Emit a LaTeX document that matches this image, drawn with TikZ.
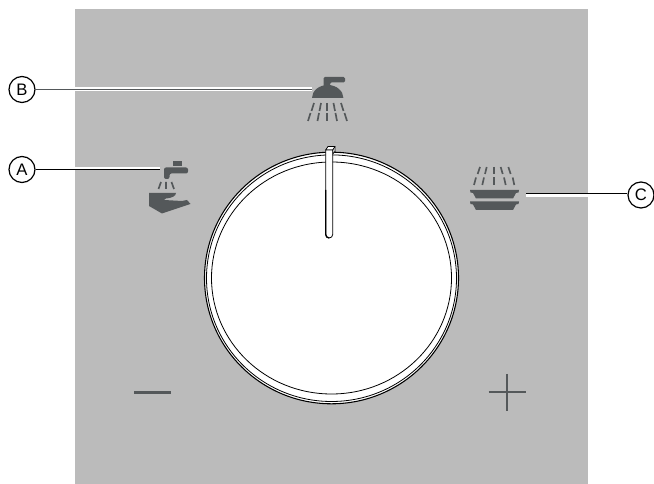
\documentclass[tikz,border=0pt]{standalone}
\usepackage{fontspec}
\setmainfont{Liberation Sans}
\definecolor{panel}{HTML}{BBBBBB}
\definecolor{icon}{HTML}{54585A}
\tikzset{
  x=0.75pt,y=-0.75pt,
  callout/.style={circle,draw=black,line width=0.9pt,fill=white,minimum size=19.5pt,inner sep=0pt,font=\fontsize{12.5pt}{13pt}\selectfont},
  halo/.style={draw=white,line width=1.1pt},
  leader/.style={draw=black,line width=0.75pt},
  spray/.style={draw=icon,line width=1.25pt},
  iconfill/.style={fill=icon,draw=none},
  ring/.style={draw=black,line width=0.6pt},
  signline/.style={draw=icon,line width=1.2pt}
}
\begin{document}
\begin{tikzpicture}
\useasboundingbox (0,0) rectangle (654,484);
\fill[white] (0,0) rectangle (654,484);
\fill[panel] (74.5,9) rectangle (588,484);

% dial
\filldraw[ring,fill=white,line width=0.8pt] (331.5,278) ellipse [x radius=127,y radius=125.8];
\draw[ring] (331.5,278.2) ellipse [x radius=125,y radius=123.3];
\draw[ring] (331.5,278) ellipse [x radius=120,y radius=116];

% pointer
\filldraw[ring,fill=white] (325.7,150) -- (328,146.5) -- (335,146.5) -- (335,151.5) -- (332.7,154) -- (332.7,150) -- cycle;
\draw[ring] (332.7,150) -- (335,146.5);
\filldraw[ring,fill=white] (325.7,150) -- (332.7,150) -- (332.7,234.5) arc[start angle=0,end angle=180,x radius=3.5,y radius=3.5] -- cycle;
\draw[black,line width=1pt] (325.7,190) -- (325.7,234.5) arc[start angle=180,end angle=90,x radius=3.5,y radius=3.5];

% shower icon
\fill[iconfill] (312,98) arc[start angle=180,end angle=0,x radius=15.7,y radius=-13] -- cycle;
\fill[iconfill,rounded corners=1pt] (323.5,88) -- (323.5,77) -- (345,77) -- (345,82.5) -- (330,82.5) -- (330,88) -- cycle;
\foreach \a/\b/\c/\d/\e/\f/\g/\h in {
  314/103/311.5/111/310.5/113/308/121,
  321/103/319.5/111/319/113/317.5/121,
  327/103/327/111/327/113/327/121,
  333.5/103/335/111/335.5/113/337/121,
  341/103/343.5/111/344.5/113/347/121}{
  \draw[spray] (\a,\b) -- (\c,\d) (\e,\f) -- (\g,\h);
}

% tap and hand icon
\fill[iconfill] (173,161) rectangle (182,166);
\fill[iconfill,rounded corners=1.5pt] (164,179) -- (164,167.5) -- (188,167.5) -- (188,173.5) -- (169.5,173.5) -- (169.5,179) -- cycle;
\draw[spray] (161,182) -- (158.5,189) (166,182) -- (166,189) (171.5,182) -- (174,189);
\fill[iconfill] (149,193) -- (176,193) .. controls (176,196) and (172,198) .. (166,198.5) -- (164,200) -- (182,201) -- (187,200) -- (190.5,204) -- (162,213.5) -- (149,206) -- cycle;

% dishes icon
\foreach \a/\b/\c/\d/\e/\f/\g/\h in {
  480/167/477.7/174/476/177.5/474/185,
  486.7/167/485/174/484/177.5/482.3/185,
  494/167/494/174/494/177.5/494/185,
  500.7/167/502.7/174/504/177.5/505.7/185,
  508.3/167/510.7/174/512.7/177.5/514.3/185}{
  \draw[spray] (\a,\b) -- (\c,\d) (\e,\f) -- (\g,\h);
}
\fill[iconfill] (470,190) -- (519,190) -- (518.5,192.5) -- (516,193) -- (513,198.5) -- (476,198.5) -- (473,193) -- (470.5,192.5) -- cycle;
\fill[iconfill] (470,201.5) -- (519,201.5) -- (518.5,204) -- (516,204.5) -- (513,210) -- (476,210) -- (473,204.5) -- (470.5,204) -- cycle;

% minus and plus
\draw[icon,line width=2.2pt] (134,392.3) -- (171,392.3);
\draw[signline] (488.5,392.3) -- (526,392.3);
\draw[signline] (507,374) -- (507,411);

% callouts
\node[callout] (B) at (22,89.5) {B};
\node[callout] (A) at (22,169.5) {A};
\node[callout] (C) at (641,195) {C};
\coordinate (Bend) at (312,89.5);
\coordinate (Aend) at (159.5,169.5);
\coordinate (Cend) at (526,194);

% leaders
\draw[halo,line width=3pt] (B.east) -- (Bend);
\draw[draw=icon,line width=1.3pt] (B.east) -- (Bend);
\draw[halo,line width=2.4pt] ([yshift=0.75pt]A.east) -- ([yshift=0.75pt]Aend);
\draw[leader] ([yshift=-0.2pt]A.east) -- ([yshift=-0.2pt]Aend);
\draw[halo,line width=2.4pt] (C.west |- Cend) ++(0,1) -- ([yshift=-0.75pt]Cend);
\draw[leader] (Cend) -- (C.west |- Cend);
\end{tikzpicture}
\end{document}
